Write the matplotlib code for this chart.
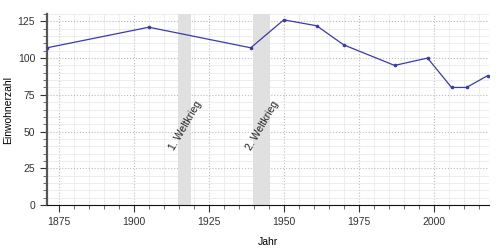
import matplotlib
matplotlib.use("Agg")
from matplotlib import pyplot as plt
from matplotlib.ticker import MultipleLocator

# Einwohnerzahl pro Jahr
jahre = [1871, 1905, 1939, 1950, 1961, 1970, 1987, 1998, 2006, 2011, 2018]
einwohner = [107, 121, 107, 126, 122, 109, 95, 100, 80, 80, 88]

# Kriegszeiten (Start, Ende, Beschriftung)
kriege = [(1914.6, 1918.9, "1. Weltkrieg"), (1939.7, 1945.4, "2. Weltkrieg")]

plt.rcParams['font.family'] = ['Liberation Sans', 'DejaVu Sans']

fig = plt.figure(figsize=(5, 2.5), dpi=100)
ax = fig.add_axes([0.094, 0.18, 0.884, 0.764])

for start, ende, name in kriege:
    ax.axvspan(start, ende, color='#e0e0e0', lw=0, zorder=1)
    ax.text((start + ende) / 2 + 0.4, 54, name, rotation=60, ha='center', va='center',
            fontsize=7.5, color='#222222', zorder=4)

ax.plot(jahre, einwohner, color='#3a3aaa', lw=0.9, marker='o', markersize=1.6, zorder=3)

ax.set_xlim(1871, 2018.5)
ax.set_ylim(0, 130)
ax.xaxis.set_major_locator(MultipleLocator(25))
ax.xaxis.set_minor_locator(MultipleLocator(5))
ax.yaxis.set_major_locator(MultipleLocator(25))
ax.yaxis.set_minor_locator(MultipleLocator(5))

ax.grid(which='major', color='#bbbbbb', ls=':', lw=0.8, zorder=0)
ax.grid(which='minor', color='#eaeaea', ls='-', lw=0.6, zorder=0)
ax.set_axisbelow(True)

for s in ['top', 'right']:
    ax.spines[s].set_visible(False)
ax.spines['left'].set_color('#555555')
ax.spines['left'].set_linewidth(1.6)
ax.spines['bottom'].set_color('#111111')

ax.tick_params(which='major', length=5, labelsize=7.5, colors='#333333', width=0.8)
ax.tick_params(which='minor', length=3, width=0.6, colors='#555555')

ax.set_xlabel('Jahr', fontsize=7.5, labelpad=7)
ax.set_ylabel('Einwohnerzahl', fontsize=7.5, labelpad=3)

fig.savefig('out.png', dpi=100)
